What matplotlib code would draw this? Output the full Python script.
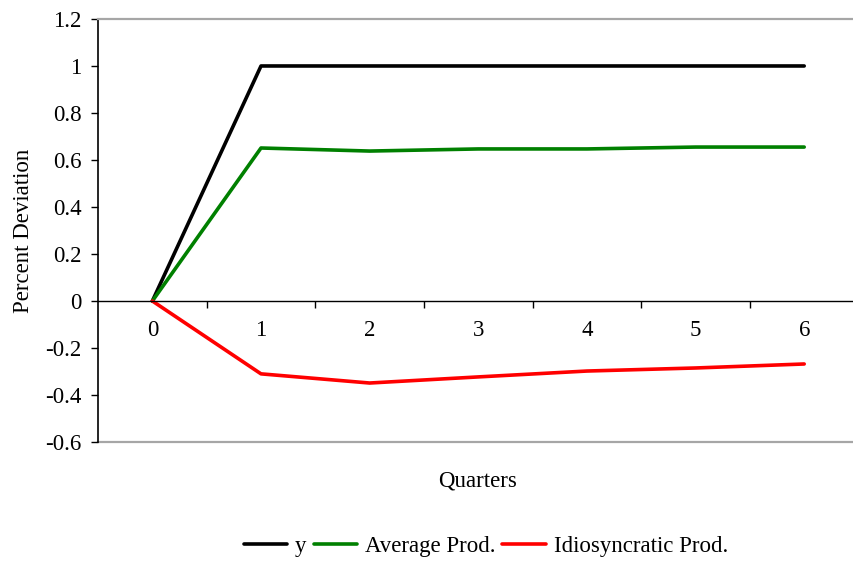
import numpy as np
import matplotlib
matplotlib.use("Agg")
import matplotlib.pyplot as plt
from matplotlib.ticker import FuncFormatter, MultipleLocator

plt.rcParams['font.family'] = ['Liberation Serif', 'DejaVu Serif']

# data
quarters = [0, 1, 2, 3, 4, 5, 6]
y_out = [0, 1.0, 1.0, 1.0, 1.0, 1.0, 1.0]
avg_prod = [0, 0.651, 0.638, 0.647, 0.647, 0.655, 0.655]
idio_prod = [0, -0.310, -0.349, -0.323, -0.298, -0.285, -0.268]

fs = 16.5

fig = plt.figure(figsize=(8.54, 5.63), dpi=100)
ax = fig.add_axes([0.1148, 0.2149, 0.8905, 0.7514])

lw = 2.6
ax.plot(quarters, y_out, color='black', lw=lw, label='y', solid_capstyle='round')
ax.plot(quarters, avg_prod, color='#008000', lw=lw, label='Average Prod.', solid_capstyle='round')
ax.plot(quarters, idio_prod, color='#ff0000', lw=lw, label='Idiosyncratic Prod.', solid_capstyle='round')

ax.set_xlim(-0.5, 6.5)
ax.set_ylim(-0.6, 1.2)

# spines: black y axis, x axis through zero, gray plot-area border
ax.spines['bottom'].set_position(('data', 0))
ax.spines['bottom'].set_linewidth(1.0)
ax.spines['left'].set_linewidth(1.2)
ax.spines['right'].set_visible(False)
ax.spines['top'].set_color('#a6a6a6')
ax.spines['top'].set_linewidth(1.6)
ax.axhline(-0.6, color='#a6a6a6', lw=1.6, clip_on=False, zorder=0)

ax.yaxis.set_major_locator(MultipleLocator(0.2))
ax.yaxis.set_major_formatter(FuncFormatter(lambda v, p: f"{round(v, 2):g}"))
ax.tick_params(axis='y', direction='out', length=5, width=1, labelsize=fs, pad=7)

ax.set_xticks(quarters)
ax.set_xticks([q + 0.5 for q in quarters[:-1]], minor=True)
ax.tick_params(axis='x', which='major', length=0, labelsize=fs, pad=14)
ax.tick_params(axis='x', which='minor', direction='out', length=5, width=1)

ax.set_ylabel('Percent Deviation', fontsize=fs, labelpad=8)
fig.text(0.5595, 0.146, 'Quarters', fontsize=fs, ha='center', va='center')

fig.legend(loc='center', bbox_to_anchor=(0.569, 0.029), ncol=3, frameon=False,
           fontsize=fs, handlelength=1.9, handletextpad=0.35, columnspacing=0.3)

fig.savefig('out.png', dpi=100)
